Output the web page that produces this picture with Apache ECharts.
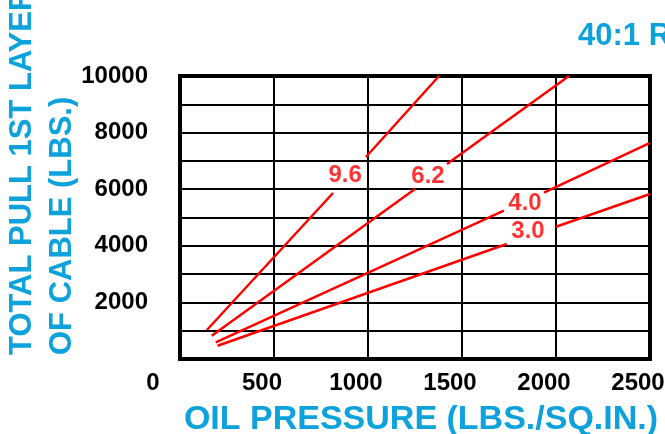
<!DOCTYPE html>
<html>
<head>
<meta charset="utf-8">
<script src="https://cdn.jsdelivr.net/npm/echarts@6/dist/echarts.min.js"></script>
<style>
html,body{margin:0;padding:0;background:#fff;}
#chart{width:665px;height:434px;}
</style>
</head>
<body>
<div id="chart"></div>
<script>
// Data (x: oil pressure psi, y: total pull lbs)
const ratios = ['9.6', '6.2', '4.0', '3.0'];
// each line: start, gap start, (break), gap end, end
const pressure96 = [143, 814, null, 989, 1378];
const pull96     = [1025, 5866, null, 7138, 10000];
const pressure62 = [169, 1250, null, 1420, 2069];
const pull62     = [823, 6007, null, 6890, 10000];
const pressure40 = [190, 1723, null, 1936, 2500];
const pull40     = [590, 5240, null, 5880, 7633];
const pressure30 = [200, 1738, null, 2000, 2500];
const pull30     = [470, 4064, null, 4675, 5830];
// label anchor positions (in data units)
const labelPressure = [878, 1319, 1835, 1851];
const labelPull     = [6502, 6466, 5512, 4498];
// axis ticks
const xTicks = [0, 500, 1000, 1500, 2000, 2500];
const yTickLabels = [2000, 4000, 6000, 8000, 10000];

const CYAN = '#0DA2DC';
const FONT = "'Liberation Sans', Arial, sans-serif";

function toData(xs, ys) {
  const out = [];
  for (let i = 0; i < xs.length; i++) {
    if (xs[i] === null) {
      out.push([(xs[i - 1] + xs[i + 1]) / 2, '-']);
    } else {
      out.push([xs[i], ys[i]]);
    }
  }
  return out;
}

const lineSets = [
  [pressure96, pull96],
  [pressure62, pull62],
  [pressure40, pull40],
  [pressure30, pull30]
];

const series = lineSets.map((s, i) => ({
  type: 'line',
  name: ratios[i],
  data: toData(s[0], s[1]),
  showSymbol: false,
  symbol: 'none',
  connectNulls: false,
  lineStyle: { color: '#FF0000', width: 2.5 },
  z: 5,
  silent: true
}));

series.push({
  type: 'scatter',
  symbolSize: 0,
  data: ratios.map((r, i) => ({ name: r, value: [labelPressure[i], labelPull[i]] })),
  label: {
    show: true,
    position: 'inside',
    formatter: p => p.name,
    color: '#FF0000',
    fontSize: 24,
    fontWeight: 'bold',
    fontFamily: FONT
  },
  z: 6,
  silent: true
});

const chart = echarts.init(document.getElementById('chart'), null, { renderer: 'canvas' });
chart.setOption({
  animation: false,
  backgroundColor: '#fff',
  grid: {
    left: 180, top: 76, right: 15, bottom: 75,
    outerBoundsMode: 'none',
    containLabel: false,
    show: true, borderColor: '#000', borderWidth: 4, backgroundColor: 'transparent'
  },
  xAxis: {
    type: 'value', min: xTicks[0], max: xTicks[xTicks.length - 1], interval: 500,
    axisLine: { show: false }, axisTick: { show: false },
    splitLine: { show: true, lineStyle: { color: '#000', width: 2 } },
    axisLabel: {
      margin: 12,
      formatter: v => (v === 0 ? '{z|0}' : '{n|' + v + '}'),
      rich: {
        z: { fontSize: 24, fontWeight: 'bold', fontFamily: FONT, color: '#000', padding: [0, 54, 0, 0] },
        n: { fontSize: 24, fontWeight: 'bold', fontFamily: FONT, color: '#000', padding: [0, 24, 0, 0] }
      }
    },
    name: 'OIL PRESSURE (LBS./SQ.IN.)',
    nameLocation: 'middle',
    nameGap: 44,
    nameTextStyle: { color: CYAN, fontSize: 34, fontWeight: 'bold', fontFamily: FONT, padding: [0, 0, 0, 12] }
  },
  yAxis: {
    type: 'value', min: 0, max: 10000, interval: 1000,
    axisLine: { show: false }, axisTick: { show: false },
    splitLine: { show: true, lineStyle: { color: '#000', width: 2 } },
    axisLabel: {
      margin: 32,
      color: '#000', fontSize: 24, fontWeight: 'bold', fontFamily: FONT,
      formatter: v => (yTickLabels.indexOf(v) >= 0 ? String(v) : '')
    }
  },
  graphic: [
    {
      type: 'text', x: 22, y: 355, rotation: Math.PI / 2,
      style: { text: 'TOTAL PULL 1ST LAYER', fill: CYAN, font: "bold 31px 'Liberation Sans', Arial, sans-serif", textAlign: 'left', textVerticalAlign: 'middle' }
    },
    {
      type: 'text', x: 62, y: 355, rotation: Math.PI / 2,
      style: { text: 'OF CABLE (LBS.)', fill: CYAN, font: "bold 31px 'Liberation Sans', Arial, sans-serif", textAlign: 'left', textVerticalAlign: 'middle' }
    },
    {
      type: 'text', x: 578, y: 36,
      style: { text: '40:1 RATIO', fill: CYAN, font: "bold 31px 'Liberation Sans', Arial, sans-serif", textAlign: 'left', textVerticalAlign: 'middle' }
    }
  ],
  series: series
});
</script>
</body>
</html>
